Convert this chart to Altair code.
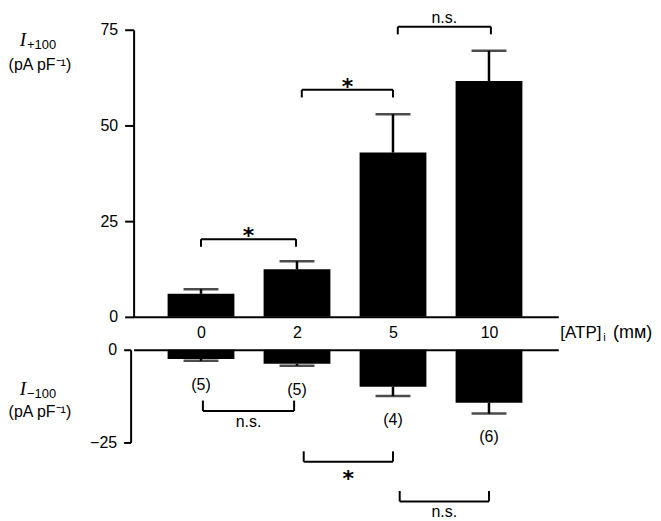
import json
import altair as alt
import pandas as pd

# ---------------- data ----------------
atp_labels = ["0", "2", "5", "10"]          # [ATP]i (mM) categories
cat_pos = [0, 1, 2, 3]                      # category slot on the x scale
ipos_mean = [6.0, 12.4, 42.9, 61.6]         # I+100 (pA/pF)
ipos_upper = [7.2, 14.5, 52.9, 69.5]        # mean + s.e.m.
ineg_mean = [-2.5, -3.8, -10.0, -14.3]      # I-100 (pA/pF)
ineg_lower = [-3.0, -4.3, -12.5, -17.2]     # mean - s.e.m.
n_labels = ["(5)", "(5)", "(4)", "(6)"]

top_br_start = [0.0, 1.05, 2.05]
top_br_end = [0.99, 2.0, 3.02]
top_br_level = [20.3, 59.3, 75.8]
top_br_text = ["*", "*", "n.s."]

bot_br_start = [0.02, 1.07, 2.07]
bot_br_end = [0.97, 2.0, 3.0]
bot_br_level = [-16.5, -30.2, -40.9]
bot_br_text = ["n.s.", "*", "n.s."]

top_title = ["I", "+100", "(pA pF\u207b\u00b9)"]
bot_title = ["I", "\u2212100", "(pA pF\u207b\u00b9)"]
x_title = ["[ATP]", "i", "(m\u1d0d)"]

# ---------------- styling ----------------
FONT = "Liberation Sans"
W, H_TOP, H_BOT = 426, 288, 93

xscale = alt.Scale(domain=[-0.65, 3.67], nice=False, zero=False)
ytop = alt.Scale(domain=[0, 75], nice=False)
ybot = alt.Scale(domain=[-25, 0], nice=False)

label_expr = json.dumps(atp_labels) + "[datum.value]"

top_xaxis = alt.Axis(values=cat_pos, labelExpr=label_expr, ticks=False, grid=False,
                     title=None, domainColor="black", domainWidth=2,
                     labelFont=FONT, labelFontSize=16, labelColor="black",
                     labelPadding=8)
bot_xaxis = alt.Axis(orient="top", labels=False, ticks=False, grid=False, title=None,
                     domainColor="black", domainWidth=2)
top_yaxis = alt.Axis(values=[0, 25, 50, 75], title=None, grid=False,
                     domainColor="black", domainWidth=2, tickColor="black",
                     tickWidth=2, tickSize=9, labelFont=FONT, labelFontSize=16,
                     labelColor="black", labelPadding=7)
bot_yaxis = alt.Axis(values=[0, -25], title=None, grid=False, offset=3,
                     domainColor="black", domainWidth=2, tickColor="black",
                     tickWidth=2, tickSize=7, labelFont=FONT, labelFontSize=16,
                     labelColor="black", labelPadding=7)

top_df = pd.DataFrame({"pos": cat_pos, "atp": atp_labels,
                       "mean": ipos_mean, "err": ipos_upper})
bot_df = pd.DataFrame({"pos": cat_pos, "atp": atp_labels,
                       "mean": ineg_mean, "err": ineg_lower, "n": n_labels})
top_br = pd.DataFrame({"x1": top_br_start, "x2": top_br_end,
                       "lvl": top_br_level, "t": top_br_text})
bot_br = pd.DataFrame({"x1": bot_br_start, "x2": bot_br_end,
                       "lvl": bot_br_level, "t": bot_br_text})


def X(field, xaxis):
    return alt.X(field, scale=xscale, axis=xaxis)


def Y(field, yscale, yaxis):
    return alt.Y(field, scale=yscale, axis=yaxis)


def panel_layers(df, yscale, xaxis, yaxis):
    bars = alt.Chart(df).mark_bar(size=67, color="black").encode(
        x=X("pos:Q", xaxis), y=Y("mean:Q", yscale, yaxis))
    err = alt.Chart(df).mark_rule(color="black", strokeWidth=2.5).encode(
        x=X("pos:Q", xaxis), y=Y("mean:Q", yscale, yaxis), y2="err:Q")
    cap = alt.Chart(df).mark_tick(color="black", orient="horizontal", size=35,
                                  thickness=2.5).encode(
        x=X("pos:Q", xaxis), y=Y("err:Q", yscale, yaxis))
    return [bars, err, cap]


def bracket_layers(br, yscale, xaxis, yaxis, tip, star_dy, ns_dy, star_size):
    base = alt.Chart(br).transform_calculate(
        tip=f"datum.lvl + ({tip})", mid="(datum.x1 + datum.x2) / 2")
    hline = base.mark_rule(color="black", strokeWidth=2).encode(
        x=X("x1:Q", xaxis), x2="x2:Q", y=Y("lvl:Q", yscale, yaxis))
    lend = base.mark_rule(color="black", strokeWidth=2).encode(
        x=X("x1:Q", xaxis), y=Y("lvl:Q", yscale, yaxis), y2="tip:Q")
    rend = base.mark_rule(color="black", strokeWidth=2).encode(
        x=X("x2:Q", xaxis), y=Y("lvl:Q", yscale, yaxis), y2="tip:Q")
    star = base.transform_filter("datum.t == '*'").mark_text(
        font="DejaVu Sans", fontWeight="bold", fontSize=star_size,
        baseline="alphabetic", dy=star_dy, color="black").encode(
        x=X("mid:Q", xaxis), y=Y("lvl:Q", yscale, yaxis), text="t:N")
    ns = base.transform_filter("datum.t != '*'").mark_text(
        font=FONT, fontSize=16, baseline="alphabetic", dy=ns_dy,
        color="black").encode(
        x=X("mid:Q", xaxis), y=Y("lvl:Q", yscale, yaxis), text="t:N")
    return [hline, lend, rend, star, ns]


def title_layers(txt, y_i, y_sub, y_unit):
    d = pd.DataFrame({"t": txt})
    i_mark = alt.Chart(d.iloc[[0]]).mark_text(
        font="Liberation Serif", fontStyle="italic", fontSize=19,
        align="center", baseline="alphabetic", color="black").encode(
        x=alt.value(-111), y=alt.value(y_i), text="t:N")
    sub = alt.Chart(d.iloc[[1]]).mark_text(
        font=FONT, fontSize=13, align="left", baseline="alphabetic",
        color="black").encode(x=alt.value(-107), y=alt.value(y_sub), text="t:N")
    unit = alt.Chart(d.iloc[[2]]).mark_text(
        font=FONT, fontSize=16, align="center", baseline="alphabetic",
        color="black").encode(x=alt.value(-94), y=alt.value(y_unit), text="t:N")
    return [i_mark, sub, unit]


xt = pd.DataFrame({"t": x_title})
x_lab_main = alt.Chart(xt.iloc[[0]]).mark_text(
    font=FONT, fontSize=17, align="left", baseline="alphabetic",
    color="black").encode(x=alt.value(428), y=alt.value(309), text="t:N")
x_lab_sub = alt.Chart(xt.iloc[[1]]).mark_text(
    font=FONT, fontSize=11, align="left", baseline="alphabetic",
    color="black").encode(x=alt.value(471), y=alt.value(312), text="t:N")
x_lab_unit = alt.Chart(xt.iloc[[2]]).mark_text(
    font=FONT, fontSize=18, align="left", baseline="alphabetic",
    color="black").encode(x=alt.value(481), y=alt.value(309), text="t:N")

n_text = alt.Chart(bot_df).mark_text(
    font=FONT, fontSize=16, baseline="middle", dy=24, color="black").encode(
    x=X("pos:Q", bot_xaxis), y=Y("err:Q", ybot, bot_yaxis), text="n:N")

top = alt.layer(
    *panel_layers(top_df, ytop, top_xaxis, top_yaxis),
    *bracket_layers(top_br, ytop, top_xaxis, top_yaxis, "-2.0", 4, -4, 22),
    *title_layers(top_title, 16, 19, 40),
    x_lab_main, x_lab_sub, x_lab_unit,
).properties(width=W, height=H_TOP)

bottom = alt.layer(
    *panel_layers(bot_df, ybot, bot_xaxis, bot_yaxis),
    n_text,
    *bracket_layers(bot_br, ybot, bot_xaxis, bot_yaxis, "2.8", 24, 16, 22),
    *title_layers(bot_title, 45, 48, 67),
).properties(width=W, height=H_BOT)

chart = alt.vconcat(top, bottom, spacing=33, bounds="flush").properties(
    padding=0,
).configure_view(strokeWidth=0)

chart.save("out.html", embed_options={"renderer": "svg", "actions": False})
